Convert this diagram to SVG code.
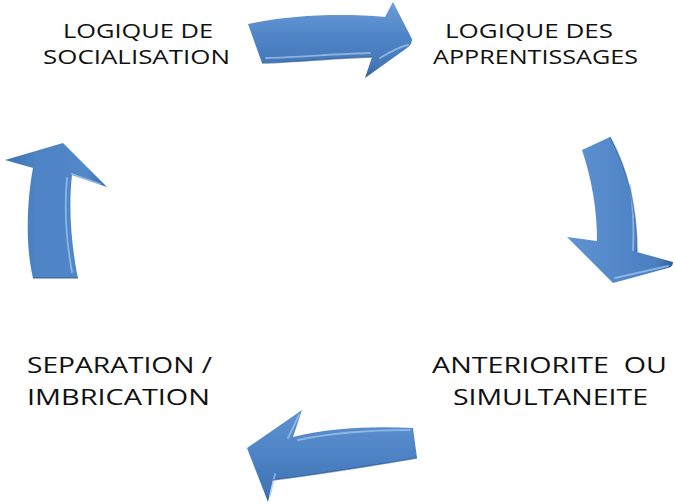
<svg xmlns="http://www.w3.org/2000/svg" width="675" height="504" viewBox="0 0 675 504">
<defs>
<linearGradient id="gTop" x1="0" y1="0" x2="0" y2="1">
<stop offset="0" stop-color="#6B9DDA"/><stop offset="0.45" stop-color="#4F84C6"/><stop offset="0.85" stop-color="#4377B8"/><stop offset="1" stop-color="#2E5E9A"/>
</linearGradient>
<linearGradient id="gBot" x1="0" y1="0" x2="0" y2="1">
<stop offset="0" stop-color="#5E92D2"/><stop offset="0.5" stop-color="#4D82C4"/><stop offset="0.9" stop-color="#4074B4"/><stop offset="1" stop-color="#2E5E9A"/>
</linearGradient>
<linearGradient id="gRight" x1="0" y1="0" x2="1" y2="0">
<stop offset="0" stop-color="#5F93D3"/><stop offset="0.6" stop-color="#4F84C6"/><stop offset="0.85" stop-color="#4A7FC0"/><stop offset="1" stop-color="#2F609C"/>
</linearGradient>
<linearGradient id="gLeft" x1="0" y1="0" x2="1" y2="0">
<stop offset="0" stop-color="#3E72B2"/><stop offset="0.3" stop-color="#4E83C5"/><stop offset="0.8" stop-color="#5188C9"/><stop offset="1" stop-color="#3A6CAA"/>
</linearGradient>
<style>
.lbl{font-family:"Open Sans","Liberation Sans",sans-serif;fill:#111;text-anchor:middle}
.t{font-size:20.5px}
.b{font-size:21.5px}
.hl{fill:none;stroke:#A8C8F0;stroke-width:1.8;stroke-linecap:round;opacity:0.7}
.sh{fill:none;stroke:#2A578F;stroke-width:1.5;opacity:0.6}
</style>
</defs>
<g id="connectors">
<g id="arrow-top">
<path d="M248,24 C290,15 340,13 385,17 L393,2 L412,39 Q412,45 407,48 L365,78 L372,57 C335,58 300,62 262,63 Z" fill="url(#gTop)"/>
<path class="hl" d="M266,58 C300,57 335,54 370,53"/>
<path class="hl" d="M380,58 Q398,47 408,45"/>
<path class="sh" d="M262,63 C300,62 335,58 372,57"/>
</g>
<g id="arrow-right">
<path d="M582,150 L610,137 C628,170 637,210 637,252 L673,262 Q673,267 668,268 L613,283 L567,237 L597,241 C597,210 592,180 582,150 Z" fill="url(#gRight)"/>
<path class="hl" d="M630,185 C634,210 634,230 633,250"/>
<path class="hl" d="M615,278 L668,266"/>
<path class="sh" d="M610,137 C628,170 637,210 637,252"/>
</g>
<g id="arrow-bottom">
<path d="M413,428 C370,426 330,428 293,437 L302,410 L247,448 L268,502 L273,480 C320,474 370,466 417,458 Z" fill="url(#gBot)"/>
<path class="hl" d="M288,438 L299,415"/>
<path class="hl" d="M270,496 L275,474"/>
<path class="sh" d="M273,480 C320,474 370,466 417,458"/>
<path class="hl" d="M298,440 C335,432 370,430 410,430"/>
</g>
<g id="arrow-left">
<path d="M33,168 L5,160 L63,143 L107,187 L72,175 C68,210 72,250 78,278 L33,278 C25,245 27,200 33,168 Z" fill="url(#gLeft)"/>
<path class="hl" d="M67,178 C64,210 67,245 72,272"/>
<path class="hl" d="M72,174 L100,184"/>
<path class="sh" d="M33,278 L78,278"/>
</g>
</g>
<g id="node-socialisation">
<text class="lbl t" x="138" y="38" textLength="150" lengthAdjust="spacingAndGlyphs">LOGIQUE DE</text>
<text class="lbl t" x="136.5" y="64" textLength="187" lengthAdjust="spacingAndGlyphs">SOCIALISATION</text>
</g>
<g id="node-apprentissages">
<text class="lbl t" x="529" y="38" textLength="168" lengthAdjust="spacingAndGlyphs">LOGIQUE DES</text>
<text class="lbl t" x="535.5" y="64" textLength="205" lengthAdjust="spacingAndGlyphs">APPRENTISSAGES</text>
</g>
<g id="node-anteriorite">
<text class="lbl b" x="549.5" y="373" textLength="235" lengthAdjust="spacingAndGlyphs" xml:space="preserve">ANTERIORITE  OU</text>
<text class="lbl b" x="550.5" y="405" textLength="195" lengthAdjust="spacingAndGlyphs">SIMULTANEITE</text>
</g>
<g id="node-separation">
<text class="lbl b" x="119.5" y="373" textLength="185" lengthAdjust="spacingAndGlyphs">SEPARATION /</text>
<text class="lbl b" x="118.5" y="405" textLength="183" lengthAdjust="spacingAndGlyphs">IMBRICATION</text>
</g>
</svg>
